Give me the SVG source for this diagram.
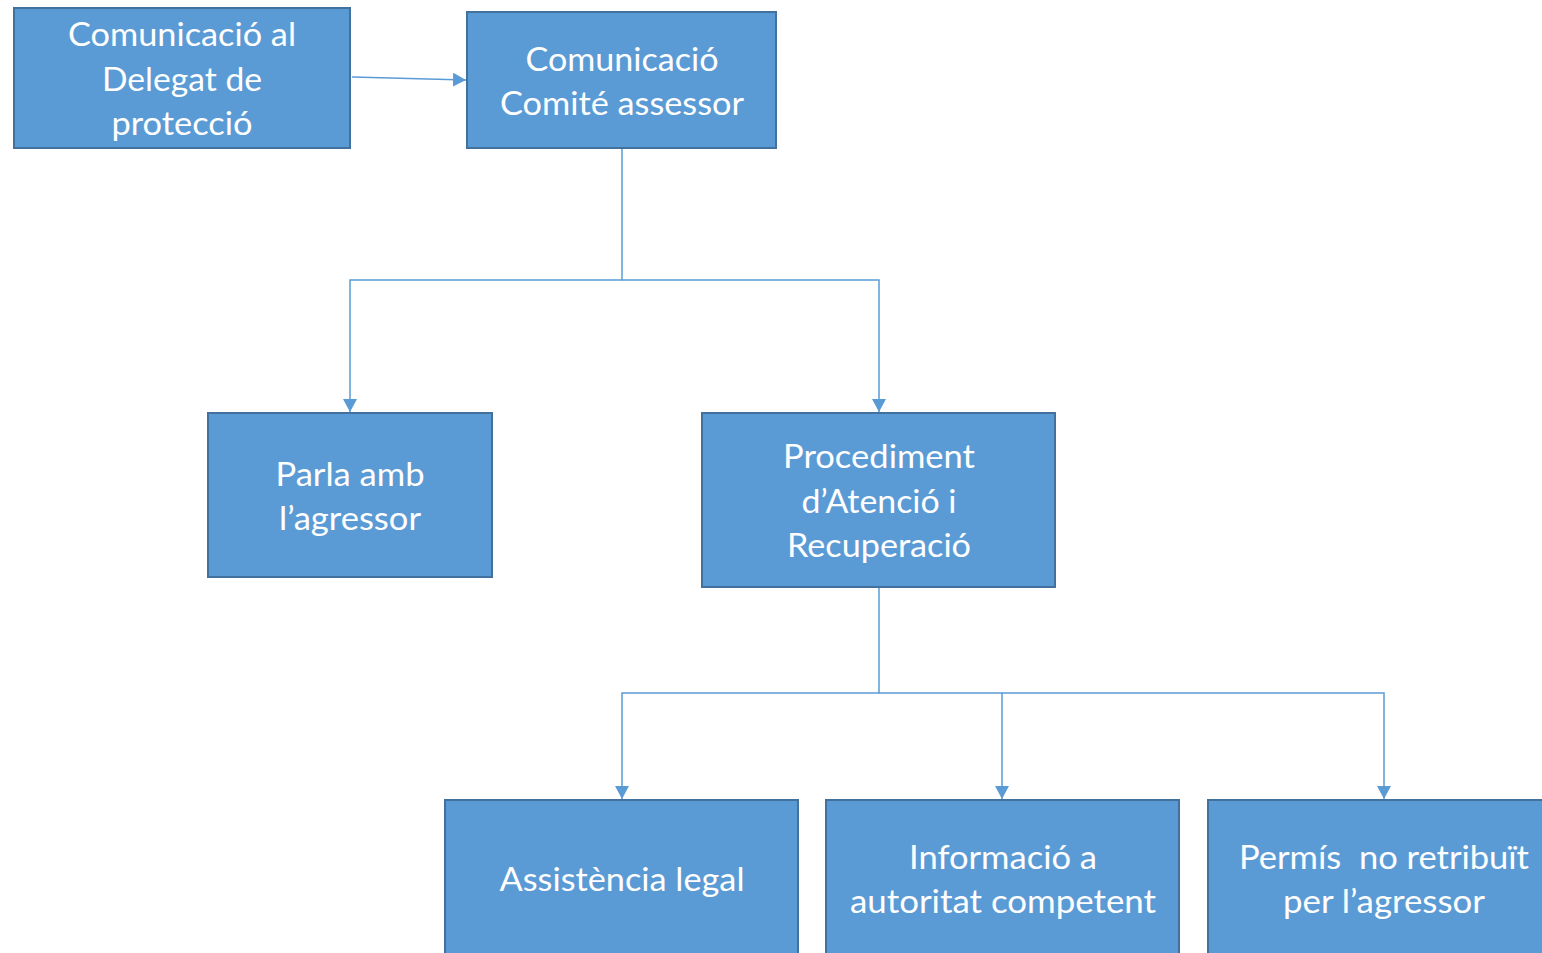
<svg xmlns="http://www.w3.org/2000/svg" width="1542" height="953" viewBox="0 0 1542 953">
<style>
.box{fill:#5B9BD5;stroke:#41719C;stroke-width:2}
.t{fill:#FFFFFF;font-family:Lato,"Open Sans","Liberation Sans",sans-serif;font-size:32px;text-anchor:middle}
.c{fill:none;stroke:#5B9BD5;stroke-width:1.5}
</style>
<defs>
<marker id="arr" markerUnits="userSpaceOnUse" markerWidth="14" markerHeight="14" viewBox="0 0 14 14" refX="13" refY="7" orient="auto">
<path d="M0,0 L13,7 L0,14 Z" fill="#5B9BD5"/>
</marker>
</defs>
<rect width="1542" height="953" fill="#FFFFFF"/>
<g id="connectors">
<path class="c" d="M352,77 L466,80" marker-end="url(#arr)"/>
<path class="c" d="M622,149 L622,280 L350,280 L350,412" marker-end="url(#arr)"/>
<path class="c" d="M622,280 L879,280 L879,412" marker-end="url(#arr)"/>
<path class="c" d="M879,588 L879,693 L622,693 L622,799" marker-end="url(#arr)"/>
<path class="c" d="M879,693 L1002,693 L1002,799" marker-end="url(#arr)"/>
<path class="c" d="M1002,693 L1384,693 L1384,799" marker-end="url(#arr)"/>
</g>
<g id="n1">
<rect class="box" x="14" y="8" width="336" height="140"/>
<text class="t" x="182" y="46" textLength="228" lengthAdjust="spacingAndGlyphs">Comunicació al</text>
<text class="t" x="182" y="91" textLength="160" lengthAdjust="spacingAndGlyphs">Delegat de</text>
<text class="t" x="182" y="135" textLength="141" lengthAdjust="spacingAndGlyphs">protecció</text>
</g>
<g id="n2">
<rect class="box" x="467" y="12" width="309" height="136"/>
<text class="t" x="622" y="71" textLength="193" lengthAdjust="spacingAndGlyphs">Comunicació</text>
<text class="t" x="622" y="115" textLength="244" lengthAdjust="spacingAndGlyphs">Comité assessor</text>
</g>
<g id="n3">
<rect class="box" x="208" y="413" width="284" height="164"/>
<text class="t" x="350" y="486" textLength="149" lengthAdjust="spacingAndGlyphs">Parla amb</text>
<text class="t" x="350" y="530" textLength="142" lengthAdjust="spacingAndGlyphs">l’agressor</text>
</g>
<g id="n4">
<rect class="box" x="702" y="413" width="353" height="174"/>
<text class="t" x="879" y="468" textLength="192" lengthAdjust="spacingAndGlyphs">Procediment</text>
<text class="t" x="879" y="513" textLength="155" lengthAdjust="spacingAndGlyphs">d’Atenció i</text>
<text class="t" x="879" y="557" textLength="184" lengthAdjust="spacingAndGlyphs">Recuperació</text>
</g>
<g id="n5">
<rect class="box" x="445" y="800" width="353" height="170"/>
<text class="t" x="622" y="891" textLength="245" lengthAdjust="spacingAndGlyphs">Assistència legal</text>
</g>
<g id="n6">
<rect class="box" x="826" y="800" width="353" height="170"/>
<text class="t" x="1003" y="869" textLength="188" lengthAdjust="spacingAndGlyphs">Informació a</text>
<text class="t" x="1003" y="913" textLength="306" lengthAdjust="spacingAndGlyphs">autoritat competent</text>
</g>
<g id="n7">
<rect class="box" x="1208" y="800" width="353" height="170"/>
<text class="t" x="1384" y="869" textLength="290" lengthAdjust="spacingAndGlyphs" xml:space="preserve">Permís  no retribuït</text>
<text class="t" x="1384" y="913" textLength="202" lengthAdjust="spacingAndGlyphs">per l’agressor</text>
</g>
</svg>
